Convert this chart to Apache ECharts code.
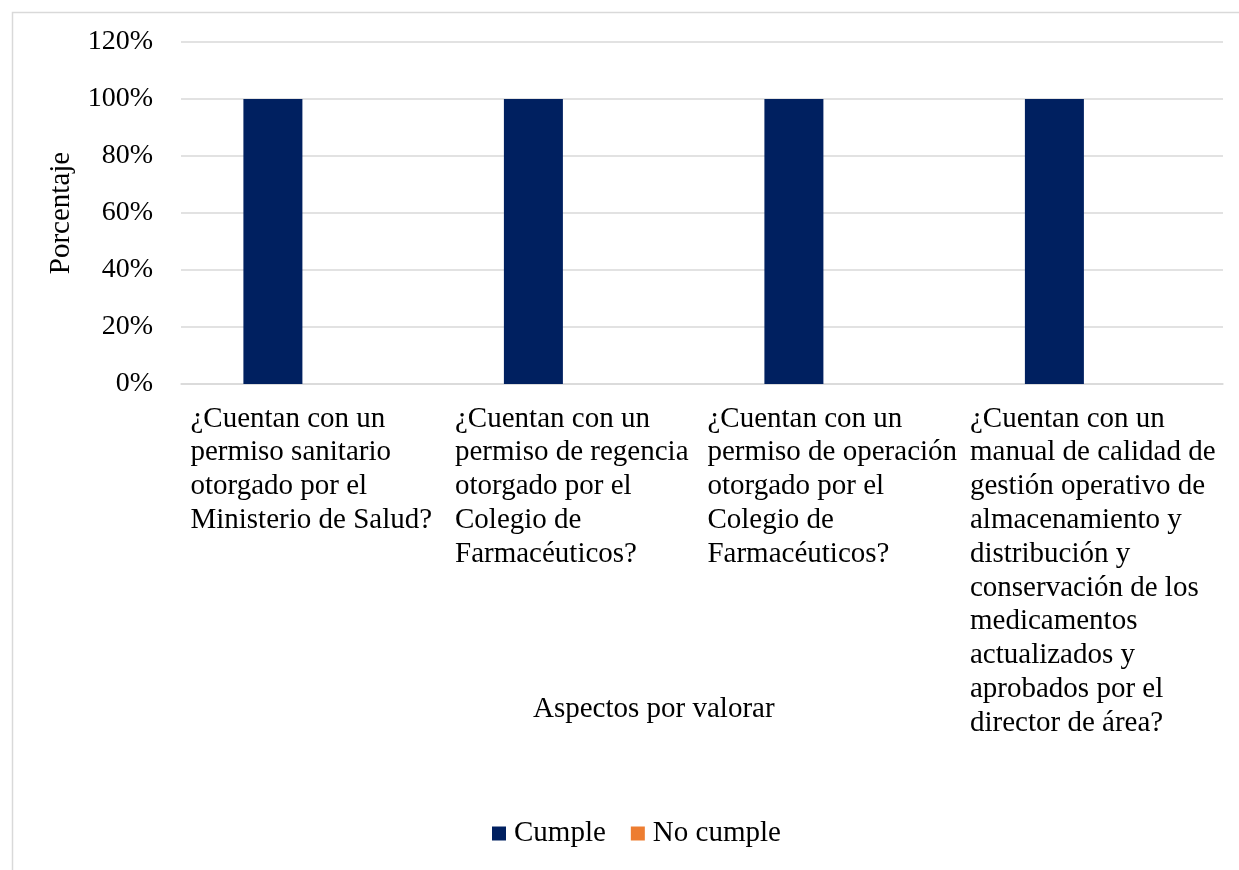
<!DOCTYPE html>
<html>
<head>
<meta charset="utf-8">
<script src="https://cdn.jsdelivr.net/npm/echarts@6/dist/echarts.min.js"></script>
<style>
  html, body { margin: 0; padding: 0; background: #fff; }
  #chart { width: 1239px; height: 870px; }
</style>
</head>
<body>
<div id="chart"></div>
<script>
// Aspects evaluated (line breaks as laid out under each bar)
const categories = [
  '¿Cuentan con un\npermiso sanitario\notorgado por el\nMinisterio de Salud?',
  '¿Cuentan con un\npermiso de regencia\notorgado por el\nColegio de\nFarmacéuticos?',
  '¿Cuentan con un\npermiso de operación\notorgado por el\nColegio de\nFarmacéuticos?',
  '¿Cuentan con un\nmanual de calidad de\ngestión operativo de\nalmacenamiento y\ndistribución y\nconservación de los\nmedicamentos\nactualizados y\naprobados por el\ndirector de área?'
];
const cumple = [100, 100, 100, 100];
const noCumple = [0, 0, 0, 0];
const seriesNames = ['Cumple', 'No cumple'];

const FONT = '"Liberation Serif", "Times New Roman", serif';
const FS = 29;

const chart = echarts.init(document.getElementById('chart'), null, { renderer: 'canvas' });

chart.setOption({
  backgroundColor: '#ffffff',
  animation: false,
  textStyle: { fontFamily: FONT, color: '#000' },
  graphic: [
    {
      type: 'rect',
      shape: { x: 12.5, y: 12.5, width: 1300, height: 900 },
      style: { fill: 'none', stroke: '#d9d9d9', lineWidth: 1.5 },
      silent: true, z: -10
    },
    {
      type: 'text',
      left: 533, top: 695,
      style: { text: 'Aspectos por valorar', font: FS + 'px ' + FONT, fill: '#000' }
    }
  ],
  grid: { left: 181, right: 16, top: 42, bottom: 486 },
  legend: {
    data: seriesNames,
    bottom: 17,
    left: 487,
    itemWidth: 14,
    itemHeight: 14,
    itemGap: 25,
    icon: 'rect',
    textStyle: { fontFamily: FONT, fontSize: FS, color: '#000', padding: [0, 0, 0, 3] }
  },
  xAxis: {
    type: 'category',
    data: categories,
    axisLine: { show: true, lineStyle: { color: '#d9d9d9', width: 1.5 } },
    axisTick: { show: false },
    axisLabel: {
      interval: 0,
      margin: 18,
      align: 'center',
      formatter: function (v) {
        return v.split('\n').map(l => '{l|' + l + '}').join('\n');
      },
      rich: {
        l: { align: 'left', fontFamily: FONT, fontSize: FS, lineHeight: 33.8, color: '#000' }
      }
    }
  },
  yAxis: {
    type: 'value',
    min: 0,
    max: 120,
    interval: 20,
    name: 'Porcentaje',
    nameLocation: 'middle',
    nameGap: 105,
    nameRotate: 90,
    nameTextStyle: { fontFamily: FONT, fontSize: FS, color: '#000' },
    axisLine: { show: false },
    axisTick: { show: false },
    axisLabel: {
      margin: 28,
      formatter: '{value}%',
      fontFamily: FONT, fontSize: 28, color: '#000'
    },
    splitLine: { lineStyle: { color: '#d9d9d9', width: 1.5 } }
  },
  series: [
    {
      name: seriesNames[0],
      type: 'bar',
      data: cumple,
      barWidth: 59,
      barGap: '30%',
      itemStyle: { color: '#002060' }
    },
    {
      name: seriesNames[1],
      type: 'bar',
      data: noCumple,
      barWidth: 59,
      itemStyle: { color: '#ED7D31' }
    }
  ]
});
</script>
</body>
</html>
